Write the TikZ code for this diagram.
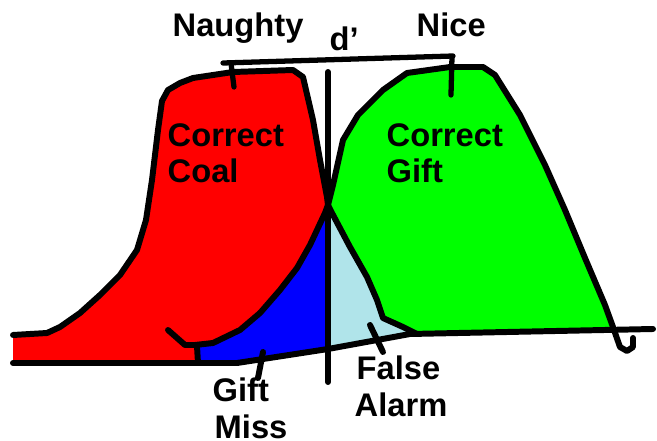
\documentclass[tikz,border=0pt]{standalone}
\usepackage{fontspec}
\setmainfont{Liberation Sans}
\definecolor{coalred}{RGB}{255,0,0}
\definecolor{giftgreen}{RGB}{0,255,0}
\definecolor{missblue}{RGB}{0,0,255}
\definecolor{alarmblue}{RGB}{176,228,234}
\tikzset{
  lbl/.style={font=\bfseries\fontsize{9.3}{10}\selectfont,inner sep=0pt,anchor=base west},
  outl/.style={line width=1.7pt}
}

\begin{document}
\begin{tikzpicture}[line cap=round,line join=round]
  \useasboundingbox (0,0) rectangle (6.57,4.41);
  % fills
  \fill[missblue] (1.95,0.96) -- (2.13,0.98) -- (2.40,1.11) -- (2.60,1.28) -- (2.80,1.51) -- (2.97,1.73)
    -- (3.10,1.96) -- (3.25,2.28) -- (3.28,2.36) -- (3.28,0.92) -- (2.37,0.78) -- (1.97,0.78) -- cycle;
  \fill[alarmblue] (3.28,2.36) -- (3.32,2.28) -- (3.50,1.94) -- (3.67,1.64) -- (3.77,1.41) -- (3.83,1.23)
    -- (4.03,1.14) -- (4.17,1.07) -- (3.28,0.92) -- cycle;
  \fill[coalred] (0.13,1.06) -- (0.47,1.08) -- (0.60,1.14) -- (0.80,1.28) -- (1.00,1.46) -- (1.20,1.66)
    -- (1.37,1.91) -- (1.46,2.21) -- (1.52,2.61) -- (1.58,3.11) -- (1.62,3.40) -- (1.68,3.51) -- (1.80,3.58)
    -- (1.93,3.63) -- (2.33,3.69) -- (2.93,3.71) -- (3.03,3.64) -- (3.13,3.21) -- (3.20,2.81) -- (3.27,2.44)
    -- (3.28,2.36) -- (3.25,2.28) -- (3.10,1.96) -- (2.97,1.73) -- (2.80,1.51) -- (2.60,1.28) -- (2.40,1.11)
    -- (2.13,0.98) -- (1.95,0.96) -- (1.97,0.78) -- (0.13,0.78) -- cycle;
  \fill[giftgreen] (3.28,2.36) -- (3.33,2.56) -- (3.43,3.01) -- (3.58,3.26) -- (3.83,3.51) -- (4.07,3.68)
    -- (4.50,3.74) -- (4.83,3.74) -- (4.95,3.66) -- (5.20,3.26) -- (5.45,2.76) -- (5.65,2.31) -- (5.85,1.83)
    -- (6.05,1.36) -- (6.13,1.14) -- (6.13,1.11) -- (4.10,1.10) -- (4.03,1.14) -- (3.83,1.23) -- (3.77,1.41)
    -- (3.67,1.64) -- (3.50,1.94) -- (3.32,2.28) -- cycle;
  % red top, crossing into green lower edge
  \draw[outl] (0.13,1.06) -- (0.47,1.08) -- (0.60,1.14) -- (0.80,1.28) -- (1.00,1.46) -- (1.20,1.66)
    -- (1.37,1.91) -- (1.46,2.21) -- (1.52,2.61) -- (1.58,3.11) -- (1.62,3.40) -- (1.68,3.51) -- (1.80,3.58)
    -- (1.93,3.63) -- (2.33,3.69) -- (2.93,3.71) -- (3.03,3.64) -- (3.13,3.21) -- (3.20,2.81) -- (3.27,2.44)
    -- (3.28,2.36) -- (3.32,2.28) -- (3.50,1.94) -- (3.67,1.64) -- (3.77,1.41) -- (3.83,1.23) -- (4.03,1.14)
    -- (4.17,1.07);
  % green top, crossing into red lower edge
  \draw[outl] (1.68,1.11) -- (1.85,0.96) -- (1.95,0.96) -- (2.13,0.98) -- (2.40,1.11) -- (2.60,1.28)
    -- (2.80,1.51) -- (2.97,1.73) -- (3.10,1.96) -- (3.25,2.28) -- (3.28,2.36) -- (3.33,2.56) -- (3.43,3.01)
    -- (3.58,3.26) -- (3.83,3.51) -- (4.07,3.68) -- (4.50,3.74) -- (4.83,3.74) -- (4.95,3.66) -- (5.20,3.26)
    -- (5.45,2.76) -- (5.65,2.31) -- (5.85,1.83) -- (6.05,1.36) -- (6.13,1.14) -- (6.20,0.94) -- (6.27,0.90)
    -- (6.33,0.94) -- (6.33,1.03);
  % base line
  \draw[outl] (0.13,0.78) -- (2.37,0.78) -- (3.28,0.92) -- (4.10,1.07) -- (6.53,1.12);
  \draw[outl] (1.97,0.95) -- (1.98,0.78);
  % d'
  \draw[outl] (3.28,3.69) -- (3.28,0.59);
  \draw[line width=1.5pt] (2.23,3.78) -- (4.53,3.85);
  \draw[line width=1.5pt] (2.31,3.78) -- (2.34,3.54);
  \draw[line width=1.5pt] (4.52,3.84) -- (4.51,3.46);
  % pointers
  \draw[outl] (2.63,0.89) -- (2.58,0.63);
  \draw[outl] (3.70,1.16) -- (3.83,0.89);
  % labels
  \node[lbl] (naughty) at (1.72,4.05) {Naughty};
  \node[lbl] (dprime) at (3.29,3.91) {d’};
  \node[lbl] (nice) at (4.16,4.05) {Nice};
  \node[lbl] (coal1) at (1.67,2.94) {Correct};
  \node[lbl] (coal2) at (1.67,2.58) {Coal};
  \node[lbl] (gift1) at (3.86,2.94) {Correct};
  \node[lbl] (gift2) at (3.86,2.58) {Gift};
  \node[lbl] (miss1) at (2.12,0.39) {Gift};
  \node[lbl] (miss2) at (2.14,0.02) {Miss};
  \node[lbl] (alarm1) at (3.56,0.61) {False};
  \node[lbl] (alarm2) at (3.54,0.24) {Alarm};
\end{tikzpicture}
\end{document}
